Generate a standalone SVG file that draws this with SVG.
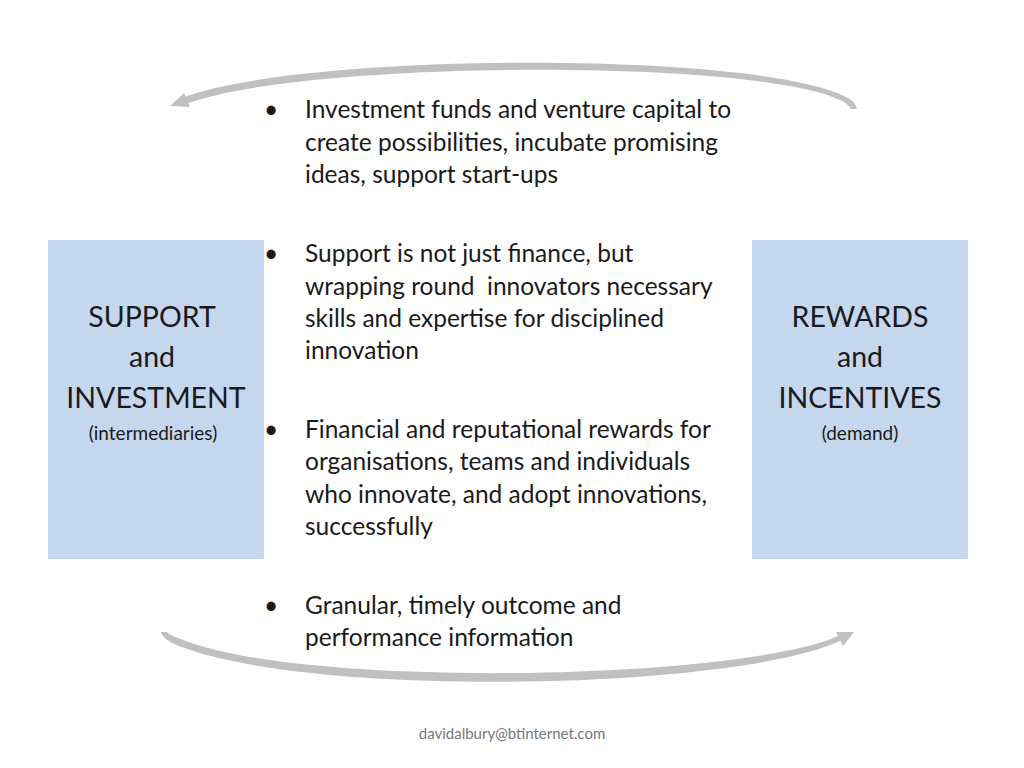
<svg xmlns="http://www.w3.org/2000/svg" width="1024" height="768" viewBox="0 0 1024 768">
<style>
text{font-family:Lato,"Open Sans",sans-serif;fill:#1a1a1a}
.b{font-size:24.5px}
.h{font-size:28.5px;text-anchor:middle}
.s{font-size:19px;text-anchor:middle}
.box{fill:#c5d7ee}
.arc{fill:#c0c0c0}
</style>
<rect width="1024" height="768" fill="#fff"/>
<g id="connectors">
<path class="arc" d="M 182 98 C 300 52, 760 50, 848 98 Q 856 103 857 109 L 851 109 Q 848 104 842 101 C 760 58, 300 60, 186 104 Z"/>
<polygon class="arc" points="170,106 184,93 190,107"/>
<path class="arc" d="M 161 632 Q 163 638 172 643 C 300 700, 740 690, 842 640 L 838 636 C 740 680, 300 690, 178 638 Q 168 634 167 632 Z"/>
<polygon class="arc" points="854,632 836,632 843,646"/>
</g>
<g id="support">
<rect class="box" x="48" y="240" width="216" height="319"/>
<text class="h" x="152" y="327">SUPPORT</text>
<text class="h" x="152" y="367">and</text>
<text class="h" x="156" y="408">INVESTMENT</text>
<text class="s" x="153" y="440">(intermediaries)</text>
</g>
<g id="rewards">
<rect class="box" x="752" y="240" width="216" height="319"/>
<text class="h" x="860" y="327">REWARDS</text>
<text class="h" x="860" y="367">and</text>
<text class="h" x="860" y="408">INCENTIVES</text>
<text class="s" x="860" y="440">(demand)</text>
</g>
<g id="bullets">
<text class="b" x="264" y="118">•</text>
<text class="b" x="305" y="118">Investment funds and venture capital to</text>
<text class="b" x="305" y="151">create possibilities, incubate promising</text>
<text class="b" x="305" y="183">ideas, support start-ups</text>
<text class="b" x="264" y="262">•</text>
<text class="b" x="305" y="262">Support is not just finance, but</text>
<text class="b" x="305" y="295" xml:space="preserve">wrapping round  innovators necessary</text>
<text class="b" x="305" y="327">skills and expertise for disciplined</text>
<text class="b" x="305" y="359">innovation</text>
<text class="b" x="264" y="438">•</text>
<text class="b" x="305" y="438">Financial and reputational rewards for</text>
<text class="b" x="305" y="470">organisations, teams and individuals</text>
<text class="b" x="305" y="503">who innovate, and adopt innovations,</text>
<text class="b" x="305" y="535">successfully</text>
<text class="b" x="264" y="614">•</text>
<text class="b" x="305" y="614">Granular, timely outcome and</text>
<text class="b" x="305" y="646">performance information</text>
</g>
<text x="512" y="739" style="font-size:15px;fill:#777;text-anchor:middle">davidalbury@btinternet.com</text>
</svg>
